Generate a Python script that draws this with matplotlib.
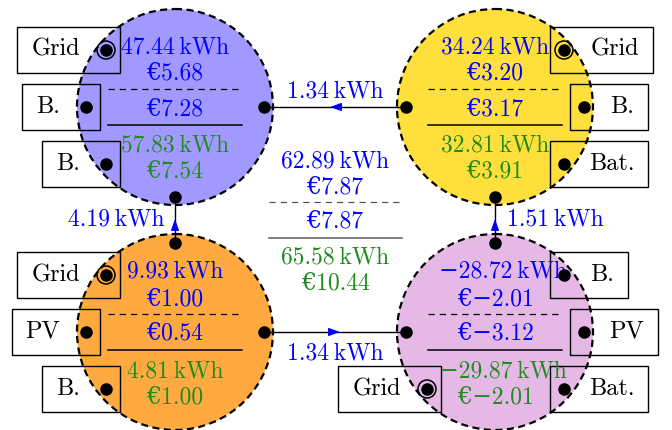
import matplotlib.pyplot as plt
from matplotlib.patches import Circle, Rectangle

plt.rcParams['font.family'] = ['cmr10', 'DejaVu Serif']

# nodes: top-left, top-right, bottom-left, bottom-right
top_kwh = [47.44, 34.24, 9.93, -28.72]
top_eur = [5.68, 3.20, 1.00, -2.01]
mid_eur = [7.28, 3.17, 0.54, -3.12]
bot_kwh = [57.83, 32.81, 4.81, -29.87]
bot_eur = [7.54, 3.91, 1.00, -2.01]
node_colors = ['#a199ff', '#ffdf3c', '#ffaa40', '#e5b8e5']

# totals in the middle
tot_top_kwh = 62.89
tot_top_eur = 7.87
tot_mid_eur = 7.87
tot_bot_kwh = 65.58
tot_bot_eur = 10.44

# flows between the nodes
flow_tr_tl = 1.34
flow_bl_tl = 4.19
flow_br_tr = 1.51
flow_bl_br = 1.34

# boxes around each node: (label, side, row, kind)
node_boxes = [
    [('Grid', 'L', 0, 'ring'), ('B.', 'L', 1, 'dot'), ('B.', 'L', 2, 'dot')],
    [('Grid', 'R', 0, 'ring'), ('B.', 'R', 1, 'dot'), ('Bat.', 'R', 2, 'dot')],
    [('Grid', 'L', 0, 'ring'), ('PV', 'L', 1, 'dot'), ('B.', 'L', 2, 'dot')],
    [('B.', 'R', 0, 'dot'), ('PV', 'R', 1, 'dot'), ('Bat.', 'R', 2, 'dot'), ('Grid', 'L', 2, 'ring')],
]

BLUE = '#0000ff'
GREEN = '#1f8b1f'
FS = 17
FSL = 17.5


def num(v):
    s = f'{v:.2f}'
    return s.replace('-', '\u2212')


def kwh(v):
    return num(v) + '\u2009kWh'


def eur(v):
    return '\u20ac' + num(v)


fig = plt.figure(figsize=(6.72, 4.30), dpi=100)
ax = fig.add_axes([0, 0, 1, 1])
ax.set_xlim(0, 672)
ax.set_ylim(430, 0)
ax.axis('off')

centers = [(175, 107), (495, 107), (175, 332), (495, 332)]
R = 98
D = 89


def dot(x, y, ring=False):
    ax.plot(x, y, 'o', color='black', ms=8, zorder=6)
    if ring:
        ax.add_patch(Circle((x, y), 9, fill=False, ec='black', lw=1.1, zorder=6))


for i, (cx, cy) in enumerate(centers):
    ax.add_patch(Circle((cx, cy), R, facecolor=node_colors[i], edgecolor='black',
                        lw=1.6, linestyle=(0, (3.2, 2)), zorder=1))
    dx = 8 if top_kwh[i] < 0 else 0
    ax.text(cx + dx, cy - 54, kwh(top_kwh[i]), color=BLUE, fontsize=FS, ha='center', va='baseline', zorder=5)
    ax.text(cx, cy - 27, eur(top_eur[i]), color=BLUE, fontsize=FS, ha='center', va='baseline', zorder=5)
    ax.plot([cx - 67, cx + 67], [cy - 18, cy - 18], color='black', lw=0.9, ls=(0, (5, 4)), zorder=3)
    ax.text(cx, cy + 8, eur(mid_eur[i]), color=BLUE, fontsize=FS, ha='center', va='baseline', zorder=5)
    ax.plot([cx - 67, cx + 67], [cy + 18, cy + 18], color='black', lw=1.1, zorder=3)
    dx = 8 if bot_kwh[i] < 0 else 0
    ax.text(cx + dx, cy + 45, kwh(bot_kwh[i]), color=GREEN, fontsize=FS, ha='center', va='baseline', zorder=5)
    ax.text(cx, cy + 71, eur(bot_eur[i]), color=GREEN, fontsize=FS, ha='center', va='baseline', zorder=5)

    # boxes with connectors
    for label, side, row, kind in node_boxes[i]:
        by = cy + (row - 1) * 57
        if row == 1:
            px = cx - D if side == 'L' else cx + D
        else:
            px = cx - 69 if side == 'L' else cx + 69
        if label == 'Grid' and i == 3:
            px = cx - 68
        w = 103 if label == 'Grid' else (98 if label == 'Bat.' else (88 if label == 'PV' else 78))
        if side == 'L':
            x0 = px + 14 - w
            tx = x0 + (w - 26) / 2
        else:
            x0 = px - 14
            tx = x0 + 26 + (w - 26) / 2
        ax.add_patch(Rectangle((x0, by - 23), w, 46, fill=False, ec='black', lw=1, zorder=4))
        ax.text(tx, by + 6, label, fontsize=FSL, ha='center', va='baseline', zorder=5)
        dot(px, by, ring=(kind == 'ring'))


# links between nodes
def link(p, q, tip, tail):
    ax.plot([p[0], q[0]], [p[1], q[1]], color='black', lw=1, zorder=2)
    ax.annotate('', xy=tip, xytext=tail,
                arrowprops=dict(arrowstyle='-|>,head_length=0.7,head_width=0.25',
                                color=BLUE, lw=0.8, shrinkA=0, shrinkB=0), zorder=3)


(x1, y1), (x2, y2), (x3, y3), (x4, y4) = centers
# top: right -> left
dot(x1 + D, y1); dot(x2 - D, y2)
link((x1 + D, y1), (x2 - D, y2), (330, y1), (340, y1))
ax.text(335, 97, kwh(flow_tr_tl), color=BLUE, fontsize=FS, ha='center', va='baseline')
# bottom: left -> right
dot(x3 + D, y3); dot(x4 - D, y4)
link((x3 + D, y3), (x4 - D, y4), (340, y3), (330, y3))
ax.text(335, 359, kwh(flow_bl_br), color=BLUE, fontsize=FS, ha='center', va='baseline')
# left vertical: bottom -> top
dot(x1, y1 + D + 1); dot(x3, y3 - D)
link((x1, y1 + D + 1), (x3, y3 - D), (x1, 219), (x1, 229))
ax.text(116, 225, kwh(flow_bl_tl), color=BLUE, fontsize=FS, ha='center', va='baseline')
# right vertical: bottom -> top
dot(x2, y2 + D + 1); dot(x4, y4 - D)
link((x2, y2 + D + 1), (x4, y4 - D), (x2, 219), (x2, 229))
ax.text(555, 225, kwh(flow_br_tr), color=BLUE, fontsize=FS, ha='center', va='baseline')

# totals in the middle
ax.text(335, 167, kwh(tot_top_kwh), color=BLUE, fontsize=FS, ha='center', va='baseline')
ax.text(335, 193, eur(tot_top_eur), color=BLUE, fontsize=FS, ha='center', va='baseline')
ax.plot([269, 402], [202, 202], color='#555555', lw=0.9, ls=(0, (5, 4)))
ax.text(335, 228, eur(tot_mid_eur), color=BLUE, fontsize=FS, ha='center', va='baseline')
ax.plot([269, 402], [238, 238], color='#666666', lw=1.2)
ax.text(335, 263, kwh(tot_bot_kwh), color=GREEN, fontsize=FS, ha='center', va='baseline')
ax.text(335, 290, eur(tot_bot_eur), color=GREEN, fontsize=FS, ha='center', va='baseline')

fig.savefig('out.png', dpi=100)
